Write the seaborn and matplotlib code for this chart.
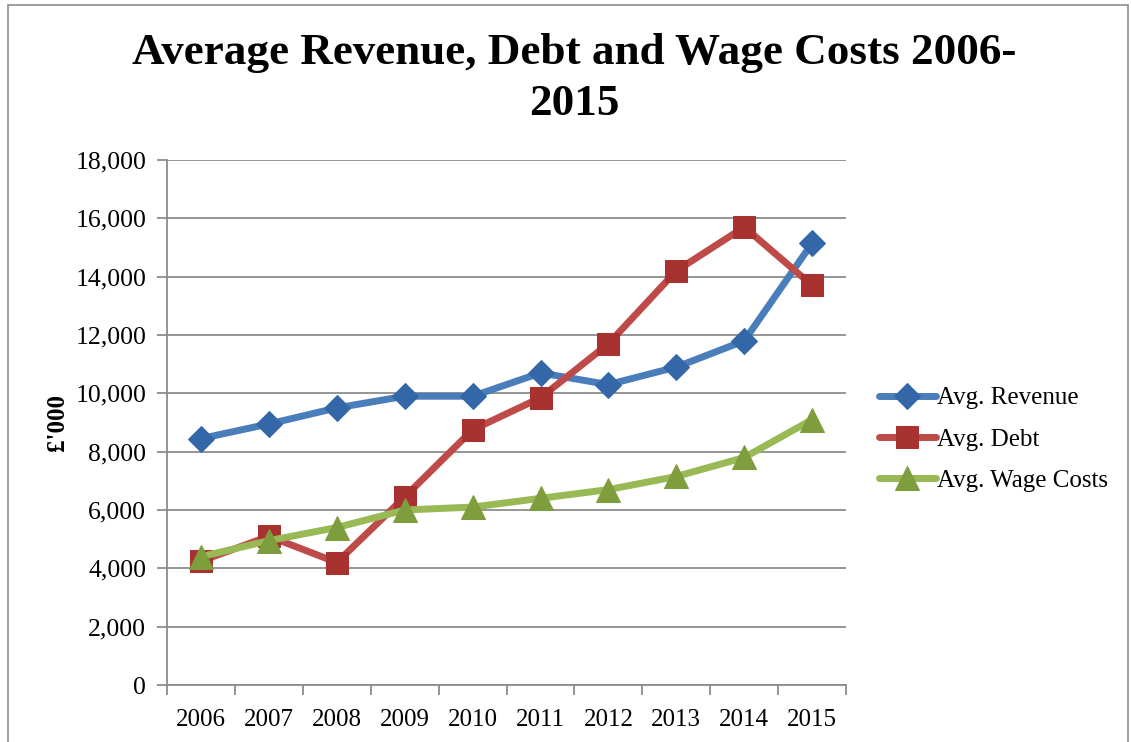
import numpy as np
import pandas as pd
import matplotlib.pyplot as plt
import seaborn as sns
from matplotlib.patches import Rectangle
from matplotlib.ticker import FuncFormatter, FixedLocator

years = ["2006", "2007", "2008", "2009", "2010", "2011", "2012", "2013", "2014", "2015"]
revenue = [8450, 8950, 9500, 9900, 9900, 10700, 10300, 10900, 11800, 15150]
debt = [4250, 5100, 4200, 6450, 8750, 9850, 11700, 14200, 15700, 13700]
wages = [4400, 4950, 5400, 6000, 6100, 6400, 6700, 7150, 7800, 9100]

series_names = ["Avg. Revenue", "Avg. Debt", "Avg. Wage Costs"]
colors = ["#4A7EBB", "#BE4B48", "#98B954"]
edge_colors = ["#3467A8", "#A8322F", "#7E9D3C"]
markers = ["D", "s", "^"]
msizes = [13, 16, 17]

sns.set_style("white")
plt.rcParams["font.family"] = ["Liberation Serif", "DejaVu Serif"]
plt.rcParams["text.color"] = "black"
plt.rcParams["xtick.color"] = "black"
plt.rcParams["ytick.color"] = "black"
plt.rcParams["axes.labelcolor"] = "black"

fig = plt.figure(figsize=(11.31, 7.42), dpi=100)
ax = fig.add_axes([0.1477, 0.0768, 0.6004, 0.7076])

x = np.arange(len(years))
for name, vals, c, ec, m, ms in zip(series_names, [revenue, debt, wages], colors, edge_colors, markers, msizes):
    sns.lineplot(x=x, y=vals, ax=ax, color=c, linewidth=5, marker=m, markersize=ms,
                 markerfacecolor=ec, markeredgecolor=ec, label=name, solid_capstyle="round")

ax.set_xlim(-0.5, len(years) - 0.5)
ax.set_ylim(0, 18000)
ax.set_yticks(np.arange(0, 18001, 2000))
ax.yaxis.set_major_formatter(FuncFormatter(lambda v, p: f"{int(v):,}"))
ax.grid(axis="y", color="#8C8C8C", linewidth=1.3)
ax.set_axisbelow(True)

# category boundaries carry tick marks, labels sit in the middle
ax.xaxis.set_major_locator(FixedLocator(np.arange(-0.5, len(years), 1.0)))
ax.xaxis.set_major_formatter(FuncFormatter(lambda v, p: ""))
ax.xaxis.set_minor_locator(FixedLocator(x))
ax.set_xticklabels(years, minor=True)
ax.tick_params(axis="x", which="major", length=7, width=1.3, color="#8C8C8C", direction="out", bottom=True)
ax.tick_params(axis="x", which="minor", length=0, labelsize=18, pad=17)
ax.tick_params(axis="y", length=7, width=1.3, color="#8C8C8C", direction="out", left=True, labelsize=18.5, pad=8)

for side in ["top", "right"]:
    ax.spines[side].set_visible(False)
for side in ["left", "bottom"]:
    ax.spines[side].set_color("#8C8C8C")
    ax.spines[side].set_linewidth(1.3)

ax.set_ylabel("£'000", fontsize=18, fontweight="bold")
ax.yaxis.set_label_coords(-0.145, 0.5)
ax.set_xlabel("")

fig.suptitle("Average Revenue, Debt and Wage Costs 2006-\n2015", x=0.508, y=0.955,
             fontsize=32.5, fontweight="bold", linespacing=1.35)

leg = ax.legend(loc="center left", bbox_to_anchor=(0.768, 0.408), bbox_transform=fig.transFigure,
                frameon=False, fontsize=18, handlelength=2.3, handletextpad=0.05,
                labelspacing=0.75, borderaxespad=0)

fig.patches.append(Rectangle((0.007, -0.01), 0.99, 1.003, transform=fig.transFigure,
                             fill=False, edgecolor="#8C8C8C", linewidth=1.2))

fig.savefig("out.png", dpi=100)
